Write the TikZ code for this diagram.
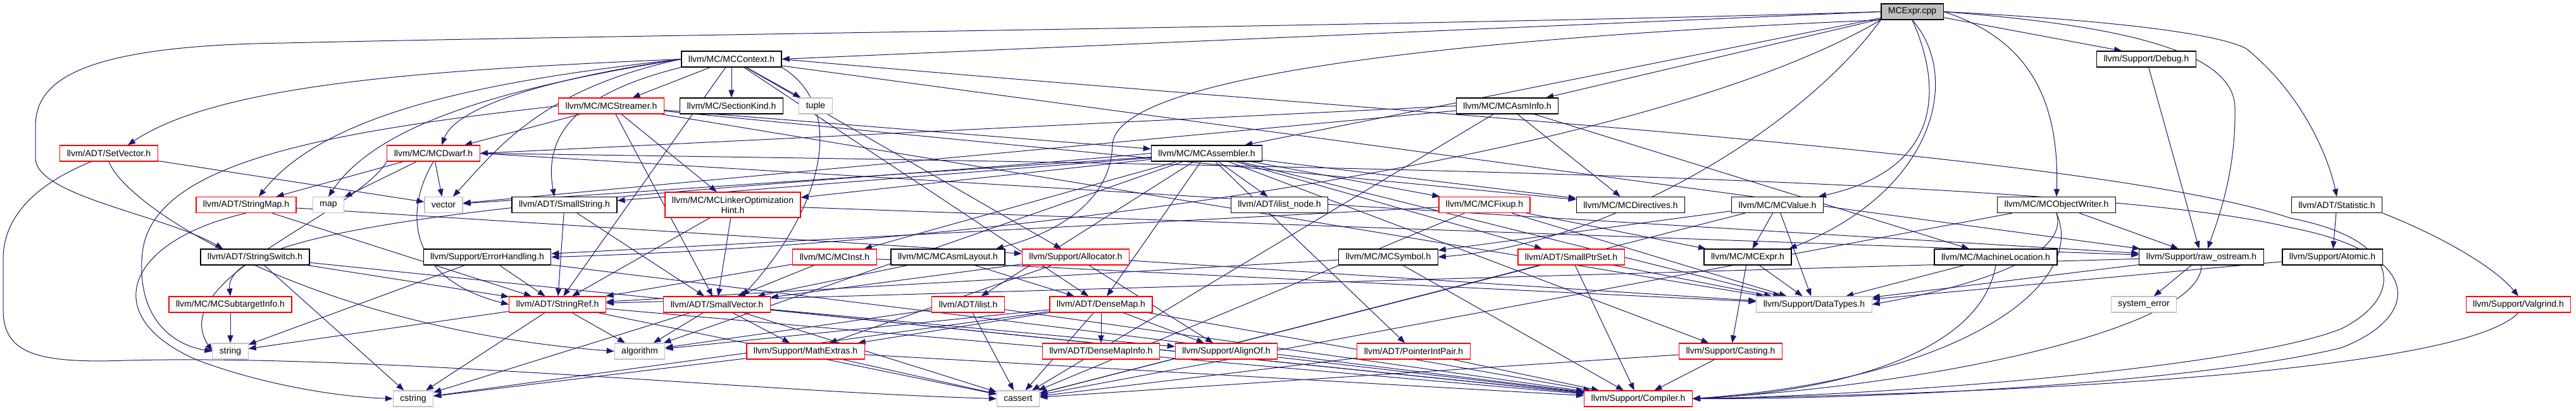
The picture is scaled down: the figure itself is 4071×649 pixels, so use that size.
\documentclass[tikz,border=0pt]{standalone}
\usepackage{fontspec}
\setmainfont{Liberation Sans}
\usetikzlibrary{arrows.meta,calc}
\pgfdeclarelayer{bg}
\pgfsetlayers{bg,main}
\definecolor{edgeblue}{HTML}{191970}
\definecolor{grayb}{HTML}{BFBFBF}
\definecolor{redb}{HTML}{FF0000}
\tikzset{
  base/.style={rectangle, fill=white, font=\fontsize{7}{8}\selectfont, inner xsep=5.5pt, inner ysep=0pt, minimum height=12.5pt, line width=0.6pt},
  bbox/.style={base, draw=black},
  rbox/.style={base, draw=redb},
  gbox/.style={base, draw=grayb},
  dep/.style={draw=edgeblue, line width=0.5pt, -{Triangle[length=6pt,width=4.5pt]}},
}
\begin{document}
\begin{tikzpicture}[x=0.5pt,y=-0.5pt]
\useasboundingbox (0,0) rectangle (4071,649);
% row 0
\node[bbox, fill=grayb] (c0) at (3022,18.5) {MCExpr.cpp};
% row 1
\node[bbox] (mccontext) at (1156,93.5) {llvm/MC/MCContext.h};
\node[bbox] (debug) at (3392,93.5) {llvm/Support/Debug.h};
% row 2
\node[rbox] (mcstreamer) at (966,167.5) {llvm/MC/MCStreamer.h};
\node[bbox] (sectionkind) at (1156,167.5) {llvm/MC/SectionKind.h};
\node[gbox] (tuple) at (1289,167.5) {tuple};
\node[bbox] (mcasminfo) at (2382,167.5) {llvm/MC/MCAsmInfo.h};
% row 3
\node[rbox] (setvector) at (172,242.5) {llvm/ADT/SetVector.h};
\node[rbox] (mcdwarf) at (685,242.5) {llvm/MC/MCDwarf.h};
\node[bbox] (mcassembler) at (1907,242.5) {llvm/MC/MCAssembler.h};
% row 4
\node[rbox] (stringmap) at (389,324) {llvm/ADT/StringMap.h};
\node[gbox] (map) at (519,324) {map};
\node[gbox] (vector) at (701,324) {vector};
\node[bbox] (smallstring) at (892,324) {llvm/ADT/SmallString.h};
\node[rbox, align=center, minimum height=20pt, inner ysep=1pt] (linkeropt) at (1158,324) {llvm/MC/MCLinkerOptimization\\Hint.h};
\node[bbox] (ilistnode) at (2022,324) {llvm/ADT/ilist\_node.h};
\node[rbox] (mcfixup) at (2346,324) {llvm/MC/MCFixup.h};
\node[bbox] (mcdirectives) at (2577,324) {llvm/MC/MCDirectives.h};
\node[bbox] (mcvalue) at (2809,324) {llvm/MC/MCValue.h};
\node[bbox] (mcobjectwriter) at (3250,324) {llvm/MC/MCObjectWriter.h};
\node[bbox] (statistic) at (3693,324) {llvm/ADT/Statistic.h};
% row 5
\node[bbox] (stringswitch) at (403,406.5) {llvm/ADT/StringSwitch.h};
\node[bbox] (errorhandling) at (770,406.5) {llvm/Support/ErrorHandling.h};
\node[rbox] (mcinst) at (1319,406.5) {llvm/MC/MCInst.h};
\node[bbox] (mcasmlayout) at (1498,406.5) {llvm/MC/MCAsmLayout.h};
\node[rbox] (allocator) at (1700,406.5) {llvm/Support/Allocator.h};
\node[bbox] (mcsymbol) at (2194,406.5) {llvm/MC/MCSymbol.h};
\node[rbox] (smallptrset) at (2483,406.5) {llvm/ADT/SmallPtrSet.h};
\node[bbox] (mcexprh) at (2762,406.5) {llvm/MC/MCExpr.h};
\node[bbox] (machineloc) at (3154,406.5) {llvm/MC/MachineLocation.h};
\node[bbox] (rawostream) at (3479,406.5) {llvm/Support/raw\_ostream.h};
\node[bbox] (atomic) at (3686,406.5) {llvm/Support/Atomic.h};
% row 6
\node[rbox] (mcsubtarget) at (364,481.5) {llvm/MC/MCSubtargetInfo.h};
\node[rbox] (stringref) at (881,481.5) {llvm/ADT/StringRef.h};
\node[rbox] (smallvector) at (1133,481.5) {llvm/ADT/SmallVector.h};
\node[rbox] (ilist) at (1530,481.5) {llvm/ADT/ilist.h};
\node[rbox] (densemap) at (1740,481.5) {llvm/ADT/DenseMap.h};
\node[gbox] (datatypes) at (2867,481.5) {llvm/Support/DataTypes.h};
\node[gbox] (systemerror) at (3388,481.5) {system\_error};
\node[rbox] (valgrind) at (3980,481.5) {llvm/Support/Valgrind.h};
% row 7
\node[gbox] (string) at (364,555.5) {string};
\node[gbox] (algorithm) at (1011,555.5) {algorithm};
\node[rbox] (mathextras) at (1273,555.5) {llvm/Support/MathExtras.h};
\node[rbox] (densemapinfo) at (1740,555.5) {llvm/ADT/DenseMapInfo.h};
\node[rbox] (alignof) at (1938,555.5) {llvm/Support/AlignOf.h};
\node[rbox] (pointerintpair) at (2234,555.5) {llvm/ADT/PointerIntPair.h};
\node[rbox] (casting) at (2735,555.5) {llvm/Support/Casting.h};
% row 8
\node[gbox] (cstring) at (653,630.5) {cstring};
\node[gbox] (cassert) at (1609,630.5) {cassert};
\node[rbox] (compiler) at (2589,630.5) {llvm/Support/Compiler.h};

\begin{pgfonlayer}{bg}
% MCExpr.cpp
\draw[dep] (c0.west) .. controls (2300,40) and (1000,55) .. (450,68) .. controls (120,72) and (56,130) .. (56,200) -- (56,250) .. controls (56,310) and (260,340) .. ($(stringswitch.north west)+(36,0)$);
\draw[dep] (c0.west) -- (mccontext.east);
\draw[dep] (c0) -- ($(mcassembler.north east)+(-28,0)$);
\draw[dep] (c0) -- ($(mcasminfo.north east)+(-20,0)$);
\draw[dep] (c0.south west) .. controls (2300,60) and (1760,120) .. (1758,230) .. controls (1756,300) and (1700,360) .. ($(mcasmlayout.north)+(76,0)$);
\draw[dep] (c0.south west) .. controls (2600,250) and (1600,385) .. (errorhandling.east);
\draw[dep] (c0.south west) .. controls (2850,200) and (2550,385) .. (mcsymbol.east);
\draw[dep] (c0.south) .. controls (3075,150) and (3060,270) .. ($(mcvalue.north east)+(-8,0)$);
\draw[dep] (c0.south) .. controls (3100,120) and (3060,300) .. ($(mcexprh.north east)+(-4,0)$);
\draw[dep] (c0.east) .. controls (3200,60) and (3255,150) .. (mcobjectwriter.north);
\draw[dep] (c0) -- ($(debug.north west)+(40,0)$);
\draw[dep] (c0.east) .. controls (3350,40) and (3530,80) .. (3532,170) .. controls (3534,280) and (3500,360) .. ($(rawostream.north)+(10,0)$);
\draw[dep] (c0.east) .. controls (3300,30) and (3500,50) .. (3550,77) .. controls (3640,150) and (3680,250) .. (statistic.north);
% MCContext
\draw[dep] (mccontext) -- (mcstreamer);
\draw[dep] (mccontext) -- (sectionkind);
\draw[dep] (mccontext) -- (tuple);
\draw[dep] (mccontext.west) .. controls (700,110) and (350,130) .. ($(setvector.north)+(30,0)$);
\draw[dep] (mccontext.west) .. controls (800,125) and (520,170) .. ($(stringmap.north)+(20,0)$);
\draw[dep] (mccontext.west) .. controls (820,135) and (600,190) .. (map.north);
\draw[dep] (mccontext.west) .. controls (860,125) and (720,170) .. ($(mcdwarf.north)+(13,0)$);
\draw[dep] (mccontext.west) .. controls (860,140) and (790,230) .. ($(vector.north)+(15,0)$);
\draw[dep] (mccontext.south west) .. controls (900,150) and (860,220) .. ($(smallstring.north)+(-16,0)$);
\draw[dep] (mccontext.south east) .. controls (1340,170) and (1300,330) .. ($(smallvector.north)+(40,0)$);
\draw[dep] (mccontext) -- (stringref);
\draw[dep] (mccontext) -- (densemap);
\draw[dep] (mccontext) -- (allocator);
\draw[dep] (mccontext) -- (rawostream);
\draw[dep] (mccontext.east) .. controls (2200,180) and (3300,240) .. (3620,345) .. controls (3800,380) and (3800,470) .. (3700,520) .. controls (3550,580) and (3000,625) .. (compiler.east);
% MCStreamer
\draw[dep] (mcstreamer) -- (mcdwarf);
\draw[dep] (mcstreamer) -- (linkeropt);
\draw[dep] (mcstreamer) -- (smallvector);
\draw[dep] (mcstreamer) -- (mcassembler);
\draw[dep] (mcstreamer) -- (mcdirectives);
\draw[dep] (mcstreamer) -- (datatypes);
\draw[dep] (mcstreamer.west) .. controls (500,210) and (240,260) .. (225,400) .. controls (215,500) and (270,545) .. (string.west);
% MCAsmInfo
\draw[dep] (mcasminfo) -- (mcdirectives);
\draw[dep] (mcasminfo.west) -- (mcdwarf.east);
\draw[dep] (mcasminfo) -- (vector);
\draw[dep] (mcasminfo) -- (machineloc);
\draw[dep] (mcasminfo) -- (cassert);
% SetVector
\draw[dep] (setvector) -- (vector);
\draw[dep] (setvector.south) .. controls (200,330) and (500,520) .. (algorithm.west);
\draw[dep] ($(setvector.south west)+(50,0)$) .. controls (60,290) and (5,340) .. (5,410) -- (5,490) .. controls (5,560) and (60,575) .. (200,570) .. controls (600,560) and (1200,620) .. (cassert.west);
% MCDwarf
\draw[dep] (mcdwarf) -- (stringmap);
\draw[dep] (mcdwarf) -- (map);
\draw[dep] (mcdwarf) -- (vector);
\draw[dep] (mcdwarf.south west) .. controls (560,340) and (260,440) .. (string.west);
\draw[dep] (mcdwarf.south) .. controls (640,330) and (640,440) .. (stringref.west);
\draw[dep] (mcdwarf.east) -- (rawostream);
\draw[dep] (mcdwarf.east) .. controls (2000,260) and (3300,280) .. (3620,360) .. controls (3830,400) and (3830,500) .. (3700,550) .. controls (3500,600) and (3000,632) .. (compiler.east);
% MCAssembler
\draw[dep] (mcassembler) -- (densemap);
\draw[dep] (mcassembler) -- (pointerintpair);
\draw[dep] (mcassembler) -- (smallptrset);
\draw[dep] (mcassembler) -- (smallstring);
\draw[dep] (mcassembler) -- (ilist);
\draw[dep] (mcassembler) -- (ilistnode);
\draw[dep] (mcassembler) -- (mcdirectives);
\draw[dep] (mcassembler) -- (mcfixup);
\draw[dep] (mcassembler) -- (mcinst);
\draw[dep] (mcassembler) -- (linkeropt);
\draw[dep] (mcassembler.west) .. controls (1200,300) and (350,330) .. (mcsubtarget.north);
\draw[dep] (mcassembler) -- (casting);
\draw[dep] (mcassembler) -- (datatypes);
\draw[dep] (mcassembler) -- (algorithm);
\draw[dep] (mcassembler) -- (vector);
% StringMap
\draw[dep] (stringmap) -- (stringref);
\draw[dep] (stringmap) -- (allocator);
\draw[dep] (stringmap.south) .. controls (200,380) and (150,500) .. (313,570) .. controls (420,610) and (540,628) .. (cstring.west);
% SmallString
\draw[dep] (smallstring) -- (smallvector);
\draw[dep] (smallstring) -- (stringref);
% LinkerOpt
\draw[dep] (linkeropt) -- (smallvector);
\draw[dep] (linkeropt) -- (stringref);
\draw[dep] (linkeropt) -- (rawostream);
% MCFixup
\draw[dep] (mcfixup) -- (mcexprh);
\draw[dep] (mcfixup) -- (datatypes);
\draw[dep] (mcfixup) -- (errorhandling);
\draw[dep] (mcfixup) -- (cassert);
% MCValue
\draw[dep] (mcvalue) -- (mcsymbol);
\draw[dep] (mcvalue) -- (mcexprh);
\draw[dep] (mcvalue) -- (datatypes);
\draw[dep] (mcvalue) -- (cassert);
% MCObjectWriter
\draw[dep] (mcobjectwriter) -- (rawostream);
\draw[dep] (mcobjectwriter.south) .. controls (3275,420) and (3050,465) .. (datatypes.east);
\draw[dep] (mcobjectwriter.south) .. controls (3300,450) and (3100,600) .. (compiler.east);
\draw[dep] (mcobjectwriter) -- (cassert);
% Statistic
\draw[dep] (statistic) -- (atomic);
\draw[dep] (statistic.south east) .. controls (3850,370) and (3940,420) .. (valgrind.north);
% StringSwitch
\draw[dep] (stringswitch) -- (stringref);
\draw[dep] (stringswitch) -- (compiler);
\draw[dep] (stringswitch) -- (cstring);
% ErrorHandling
\draw[dep] (errorhandling) -- (stringref);
\draw[dep] (errorhandling) -- (compiler);
\draw[dep] (errorhandling) -- (string);
% MCInst
\draw[dep] (mcinst) -- (smallvector);
\draw[dep] (mcinst) -- (stringref);
\draw[dep] (mcinst) -- (datatypes);
% MCAsmLayout
\draw[dep] (mcasmlayout) -- (densemap);
\draw[dep] (mcasmlayout) -- (smallvector);
% Allocator
\draw[dep] (allocator) -- (smallvector);
\draw[dep] (allocator) -- (alignof);
\draw[dep] (allocator) -- (datatypes);
\draw[dep] (allocator) -- (mathextras);
% MCSymbol
\draw[dep] (mcsymbol) -- (stringref);
\draw[dep] (mcsymbol) -- (compiler);
% SmallPtrSet
\draw[dep] (smallptrset) -- (compiler);
\draw[dep] (smallptrset) -- (datatypes);
\draw[dep] (smallptrset) -- (cassert);
% MCExpr.h
\draw[dep] (mcexprh) -- (casting);
\draw[dep] (mcexprh) -- (datatypes);
% MachineLocation
\draw[dep] (machineloc) -- (datatypes);
\draw[dep] (machineloc.south) .. controls (3130,560) and (2900,620) .. (compiler.east);
% raw_ostream
\draw[dep] (rawostream) -- (stringref);
\draw[dep] (rawostream) -- (datatypes);
\draw[dep] (rawostream) -- (systemerror);
\draw[dep] (rawostream.south) .. controls (3480,520) and (3050,610) .. (compiler.east);
% Atomic, Debug, SubtargetInfo
\draw[dep] (atomic) -- (datatypes);
\draw[dep] (debug) -- (rawostream);
\draw[dep] (mcsubtarget) -- (string);
% StringRef
\draw[dep] (stringref) -- (algorithm);
\draw[dep] (stringref) -- (cassert);
\draw[dep] (stringref) -- (cstring);
\draw[dep] (stringref) -- (string);
\draw[dep] (stringref) -- (compiler);
% SmallVector
\draw[dep] (smallvector) -- (alignof);
\draw[dep] (smallvector) -- (compiler);
\draw[dep] (smallvector) -- (mathextras);
\draw[dep] (smallvector) -- (algorithm);
\draw[dep] (smallvector) -- (cassert);
\draw[dep] (smallvector) -- (cstring);
% ilist
\draw[dep] (ilist) -- (compiler);
\draw[dep] (ilist) -- (algorithm);
\draw[dep] (ilist) -- (cassert);
% DenseMap
\draw[dep] (densemap) -- (densemapinfo);
\draw[dep] (densemap) -- (alignof);
\draw[dep] (densemap) -- (compiler);
\draw[dep] (densemap) -- (mathextras);
\draw[dep] (densemap) -- (algorithm);
\draw[dep] (densemap) -- (cassert);
\draw[dep] (densemap) -- (cstring);
% Valgrind
\draw[dep] (valgrind.south) .. controls (3900,580) and (3300,620) .. (compiler.east);
% MathExtras, AlignOf, PointerIntPair, Casting
\draw[dep] (mathextras) -- (compiler);
\draw[dep] (mathextras) -- (cassert);
\draw[dep] (mathextras) -- (cstring);
\draw[dep] (alignof) -- (compiler);
\draw[dep] (pointerintpair) -- (compiler);
\draw[dep] (pointerintpair) -- (cassert);
\draw[dep] (casting) -- (compiler);
\draw[dep] (casting) -- (cassert);
\end{pgfonlayer}
\end{tikzpicture}
\end{document}
